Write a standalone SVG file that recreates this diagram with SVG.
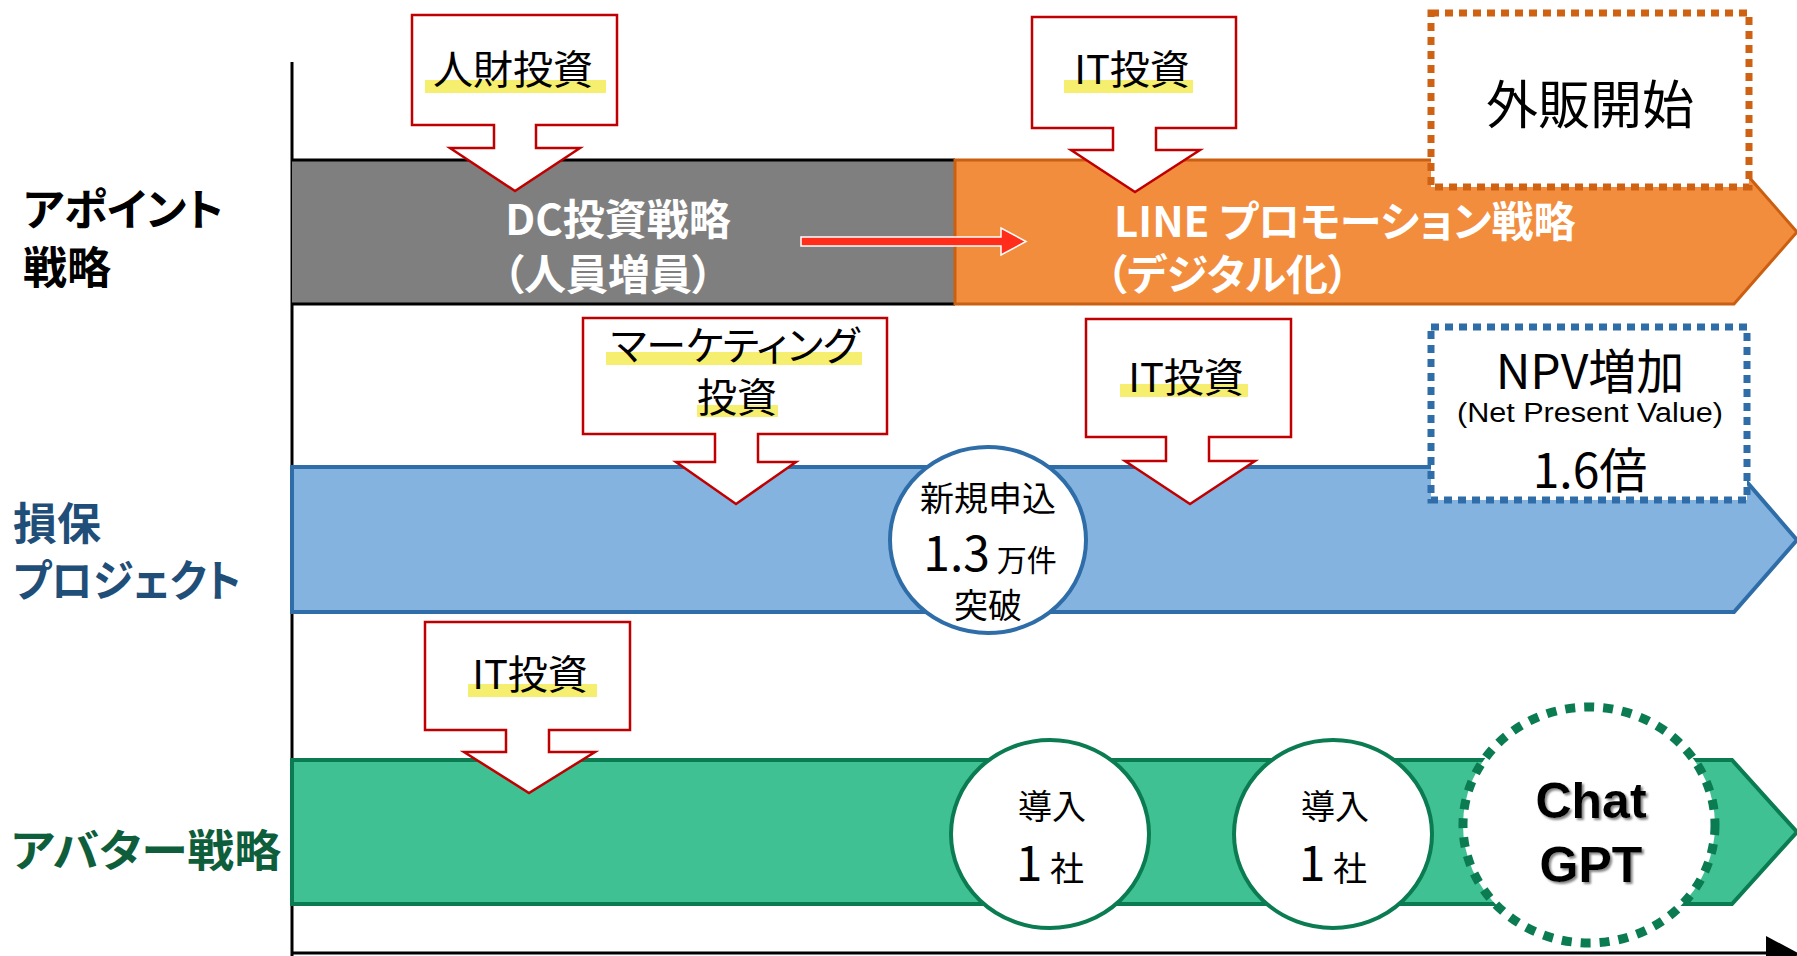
<svg xmlns="http://www.w3.org/2000/svg" width="1797" height="956" viewBox="0 0 1797 956">
<defs>
<style>
text{font-family:"Noto Sans CJK JP","Noto Sans",sans-serif;font-feature-settings:"palt";}
.lbl{font-size:44px;font-weight:700;}
.band{font-size:42px;font-weight:700;fill:#fff;}
.co{fill:#fff;stroke:#C00000;stroke-width:2.5;}
.cot{font-size:40px;fill:#000;text-anchor:middle;}
.hl{fill:#F5EE6E;}
.mid{text-anchor:middle;fill:#000;}
.lat{font-family:"Liberation Sans",Arial,sans-serif;}
</style>
<filter id="sh" x="-20%" y="-20%" width="140%" height="140%">
<feDropShadow dx="2" dy="2" stdDeviation="1" flood-color="#777" flood-opacity="0.9"/>
</filter>
</defs>
<rect width="1797" height="956" fill="#fff"/>

<g id="axes" stroke="#000" stroke-width="3" fill="none">
<line x1="292" y1="62" x2="292" y2="956"/>
<line x1="292" y1="953" x2="1768" y2="953"/>
<polygon points="1766,936 1800,954 1766,972" fill="#000" stroke="none"/>
</g>

<g id="row-labels">
<text class="lbl" x="23" y="226" fill="#000">アポイント</text>
<text class="lbl" x="23" y="284" fill="#000">戦略</text>
<text class="lbl" x="13" y="540" fill="#1F4E79">損保</text>
<text class="lbl" x="13" y="597" fill="#1F4E79" textLength="228" lengthAdjust="spacingAndGlyphs">プロジェクト</text>
<text class="lbl" x="11" y="867" fill="#0E5E3B" font-size="47" textLength="270" lengthAdjust="spacingAndGlyphs">アバター戦略</text>
</g>

<g id="dc-band">
<rect x="292" y="160" width="663" height="144" fill="#7F7F7F"/>
<line x1="292" y1="160" x2="955" y2="160" stroke="#000" stroke-width="3"/>
<line x1="292" y1="304" x2="955" y2="304" stroke="#000" stroke-width="3"/>
<text class="band" x="618" y="235" text-anchor="middle" font-size="44">DC投資戦略</text>
<text class="band" x="608" y="290" text-anchor="middle" font-size="44">（人員増員）</text>
</g>

<g id="line-band">
<polygon points="955,160 1734,160 1797,232 1734,304 955,304" fill="#F38D3E" stroke="#CB5F11" stroke-width="3"/>
<text class="band" x="1114" y="237">LINE プロモーション戦略</text>
<text class="band" x="1106" y="290">（デジタル化）</text>
</g>

<g id="sonpo-band">
<polygon points="292,467 1734,467 1797,540 1734,612 292,612" fill="#85B3E0" stroke="#2E6DA8" stroke-width="4"/>
</g>

<g id="avatar-band">
<polygon points="292,760 1732,760 1797,832 1732,904 292,904" fill="#3FC194" stroke="#0B7B52" stroke-width="4"/>
</g>

<g id="connectors">
<path d="M801,237 H1001 V228 L1026,241.5 L1001,255 V246 H801 Z" fill="#FF2D1A" stroke="#fff" stroke-width="1.5"/>
</g>

<g id="callout-jinzai">
<path class="co" d="M412,15 H617 V125 H536 V148 H580 L515,191 L450,148 H494 V125 H412 Z"/>
<rect class="hl" x="425" y="80" width="181" height="13"/>
<text class="cot" x="513" y="84">人財投資</text>
</g>

<g id="callout-it-1">
<path class="co" d="M1032,17 H1236 V128 H1156 V150 H1200 L1135,192 L1071,150 H1113 V128 H1032 Z"/>
<rect class="hl" x="1064" y="80" width="129" height="13"/>
<text class="cot" x="1132" y="84">IT投資</text>
</g>

<g id="gaihan">
<rect x="1431" y="13" width="318" height="174" fill="#fff" stroke="#CF6112" stroke-width="7" stroke-dasharray="8 6"/>
<text class="mid" x="1590" y="124" font-size="52">外販開始</text>
</g>

<g id="callout-marketing">
<path class="co" d="M583,318 H887 V434 H758 V462 H796 L736,504 L676,462 H715 V434 H583 Z"/>
<rect class="hl" x="606" y="352" width="256" height="13"/>
<rect class="hl" x="697" y="405" width="81" height="12"/>
<text class="cot" x="735" y="360">マーケティング</text>
<text class="cot" x="737" y="412">投資</text>
</g>

<g id="callout-it-2">
<path class="co" d="M1086,319 H1291 V437 H1209 V461 H1255 L1190,504 L1125,461 H1166 V437 H1086 Z"/>
<rect class="hl" x="1120" y="384" width="128" height="13"/>
<text class="cot" x="1186" y="392">IT投資</text>
</g>

<g id="npv">
<rect x="1431" y="327" width="316" height="173" fill="#fff" stroke="#2E6DA8" stroke-width="7" stroke-dasharray="8 6"/>
<text class="mid" x="1590" y="389" font-size="48">NPV増加</text>
<text class="mid lat" x="1590" y="422" font-size="27" textLength="266" lengthAdjust="spacingAndGlyphs">(Net Present Value)</text>
<text class="mid" x="1590" y="488" font-size="48">1.6倍</text>
</g>

<g id="shinki">
<ellipse cx="988" cy="540" rx="98" ry="93" fill="#fff" stroke="#2E6DA8" stroke-width="4"/>
<text class="mid" x="988" y="511" font-size="34">新規申込</text>
<text class="mid" x="990" y="571"><tspan font-size="48">1.3</tspan><tspan font-size="30"> 万件</tspan></text>
<text class="mid" x="988" y="618" font-size="34">突破</text>
</g>

<g id="callout-it-3">
<path class="co" d="M425,622 H630 V730 H549 V752 H595 L529,793 L464,752 H506 V730 H425 Z"/>
<rect class="hl" x="468" y="684" width="129" height="13"/>
<text class="cot" x="530" y="689">IT投資</text>
</g>

<g id="donyu-1">
<ellipse cx="1050" cy="834" rx="99" ry="94" fill="#fff" stroke="#0B7B52" stroke-width="4"/>
<text class="mid" x="1052" y="819" font-size="34">導入</text>
<text class="mid" x="1050" y="881"><tspan font-size="48">1</tspan><tspan font-size="34"> 社</tspan></text>
</g>

<g id="donyu-2">
<ellipse cx="1333" cy="834" rx="99" ry="94" fill="#fff" stroke="#0B7B52" stroke-width="4"/>
<text class="mid" x="1335" y="819" font-size="34">導入</text>
<text class="mid" x="1333" y="881"><tspan font-size="48">1</tspan><tspan font-size="34"> 社</tspan></text>
</g>

<g id="chatgpt">
<ellipse cx="1589" cy="825" rx="126" ry="118" fill="#fff" stroke="#0B7B52" stroke-width="9" stroke-dasharray="10 9"/>
<text class="mid lat" x="1591" y="818" font-size="50" font-weight="700" filter="url(#sh)">Chat</text>
<text class="mid lat" x="1591" y="882" font-size="50" font-weight="700" filter="url(#sh)">GPT</text>
</g>
</svg>
